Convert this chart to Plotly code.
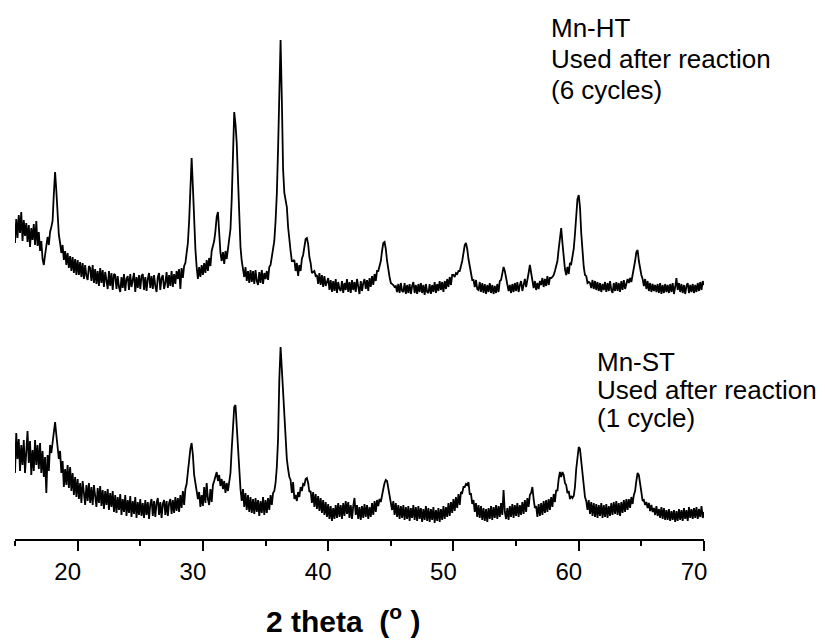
import plotly.graph_objects as go

# 2-theta scan grid (degrees), step 0.1 from 15 to 70
two_theta = [round(15 + 0.1 * i, 1) for i in range(551)]

# Mn-HT, used after reaction (6 cycles) - intensity (a.u., offset trace), one row per degree
mn_ht_intensity = [
    296, 320, 301, 324, 306, 327, 298, 319, 303, 316,   # 15
    297, 314, 292, 311, 299, 315, 294, 318, 293, 307,   # 16
    288, 298, 280, 274, 284, 296, 302, 294, 307, 312,   # 17
    318, 345, 367, 348, 322, 304, 296, 286, 294, 279,   # 18
    288, 274, 286, 271, 283, 268, 282, 266, 280, 264,   # 19
    279, 264, 277, 262, 276, 260, 274, 263, 259, 273,   # 20
    271, 258, 274, 256, 270, 255, 268, 253, 271, 256,   # 21
    269, 252, 267, 255, 250, 268, 253, 266, 249, 265,   # 22
    264, 250, 263, 252, 247, 262, 251, 265, 248, 260,   # 23
    263, 249, 265, 252, 261, 266, 247, 262, 251, 264,   # 24
    250, 263, 265, 249, 262, 248, 260, 266, 251, 263,   # 25
    250, 264, 253, 247, 262, 266, 249, 261, 264, 250,   # 26
    256, 267, 251, 264, 253, 268, 252, 265, 255, 268,   # 27
    260, 270, 250, 271, 261, 273, 276, 286, 296, 318,   # 28
    350, 381, 352, 318, 290, 272, 260, 272, 262, 274,   # 29
    264, 276, 266, 279, 268, 281, 273, 288, 292, 298,   # 30
    308, 322, 327, 305, 286, 278, 287, 275, 288, 280,   # 31
    290, 298, 310, 340, 385, 427, 415, 396, 360, 318,   # 32
    292, 278, 270, 262, 272, 258, 268, 256, 269, 257,   # 33
    268, 255, 269, 258, 254, 267, 256, 269, 255, 266,   # 34
    260, 268, 259, 272, 274, 282, 286, 298, 318, 345,   # 35
    390, 460, 499, 440, 370, 346, 340, 332, 312, 296,   # 36
    288, 278, 278, 279, 268, 276, 263, 274, 268, 280,   # 37
    284, 292, 300, 301, 295, 282, 276, 266, 267, 268,   # 38
    263, 264, 255, 266, 254, 264, 252, 263, 253, 257,   # 39
    261, 249, 259, 247, 258, 248, 260, 246, 257, 250,   # 40
    248, 258, 246, 256, 249, 260, 247, 257, 246, 259,   # 41
    249, 257, 247, 260, 250, 245, 258, 248, 256, 260,   # 42
    250, 259, 248, 261, 252, 263, 254, 265, 258, 268,   # 43
    268, 272, 278, 288, 296, 297, 290, 278, 268, 262,   # 44
    256, 255, 254, 252, 253, 247, 255, 246, 256, 248,   # 45
    247, 256, 245, 254, 246, 255, 245, 253, 257, 246,   # 46
    254, 245, 255, 247, 256, 246, 254, 244, 255, 247,   # 47
    246, 255, 245, 254, 247, 257, 246, 255, 248, 258,   # 48
    249, 257, 247, 258, 250, 260, 252, 262, 254, 264,   # 49
    264, 262, 266, 265, 268, 268, 272, 278, 286, 294,   # 50
    296, 290, 280, 272, 266, 259, 259, 252, 259, 250,   # 51
    249, 257, 247, 256, 246, 255, 245, 254, 247, 256,   # 52
    246, 254, 245, 253, 246, 255, 247, 258, 259, 265,   # 53
    272, 268, 260, 252, 248, 254, 246, 255, 247, 256,   # 54
    248, 257, 247, 254, 258, 248, 256, 260, 252, 262,   # 55
    266, 274, 266, 258, 251, 258, 249, 256, 250, 258,   # 56
    254, 261, 252, 260, 253, 263, 254, 261, 261, 262,   # 57
    264, 268, 272, 278, 290, 305, 311, 296, 278, 270,   # 58
    264, 272, 265, 276, 275, 282, 290, 305, 325, 340,   # 59
    344, 332, 306, 286, 272, 264, 263, 256, 257, 256,   # 60
    251, 259, 250, 258, 249, 257, 248, 256, 247, 255,   # 61
    249, 257, 247, 256, 248, 258, 249, 246, 256, 248,   # 62
    257, 248, 256, 247, 258, 249, 259, 250, 257, 260,   # 63
    256, 261, 257, 264, 268, 278, 287, 289, 278, 268,   # 64
    264, 260, 253, 260, 250, 258, 248, 256, 247, 255,   # 65
    248, 254, 247, 255, 246, 256, 245, 254, 246, 255,   # 66
    247, 254, 246, 255, 247, 256, 245, 252, 261, 249,   # 67
    256, 247, 255, 246, 254, 245, 253, 256, 246, 254,   # 68
    247, 255, 246, 254, 247, 256, 248, 257, 249, 258,   # 69
    254,                                                # 70
]

# Mn-ST, used after reaction (1 cycle) - intensity (a.u.), one row per degree
mn_st_intensity = [
    66, 106, 80, 100, 68, 94, 74, 99, 66, 92,     # 15
    108, 76, 98, 64, 89, 68, 99, 74, 94, 70,      # 16
    96, 66, 88, 62, 82, 46, 84, 68, 94, 86,       # 17
    98, 108, 117, 104, 90, 80, 88, 66, 78, 52,    # 18
    70, 54, 74, 51, 72, 48, 66, 44, 62, 42,       # 19
    60, 40, 56, 36, 58, 42, 34, 54, 38, 56,       # 20
    36, 52, 34, 54, 39, 32, 51, 36, 53, 33,       # 21
    49, 30, 48, 34, 50, 29, 46, 32, 48, 27,       # 22
    44, 26, 42, 29, 45, 24, 40, 27, 44, 23,       # 23
    39, 26, 43, 22, 38, 25, 42, 21, 37, 24,       # 24
    40, 23, 36, 21, 39, 24, 37, 20, 35, 40,       # 25
    23, 38, 22, 36, 41, 24, 37, 21, 35, 39,       # 26
    24, 38, 23, 36, 40, 25, 39, 26, 42, 28,       # 27
    41, 27, 44, 31, 48, 34, 50, 55, 67, 82,       # 28
    90, 96, 84, 64, 56, 44, 40, 47, 32, 44,       # 29
    33, 52, 36, 56, 40, 34, 50, 37, 54, 58,       # 30
    64, 67, 58, 64, 53, 60, 50, 58, 46, 56,       # 31
    48, 60, 66, 90, 118, 132, 134, 112, 89, 64,   # 32
    50, 38, 50, 32, 46, 29, 44, 27, 42, 26,       # 33
    40, 25, 41, 27, 39, 23, 38, 26, 42, 24,       # 34
    39, 26, 41, 29, 44, 34, 46, 48, 56, 72,       # 35
    100, 160, 192, 170, 146, 115, 92, 80, 70, 62, # 36
    59, 46, 57, 40, 44, 38, 47, 42, 52, 48,       # 37
    55, 54, 60, 61, 56, 47, 48, 36, 47, 32,       # 38
    45, 30, 43, 28, 41, 26, 39, 24, 37, 22,       # 39
    35, 20, 33, 18, 31, 20, 34, 21, 36, 22,       # 40
    34, 20, 36, 23, 38, 25, 37, 21, 34, 20,       # 41
    33, 41, 24, 34, 20, 32, 19, 33, 21, 35,       # 42
    22, 34, 20, 32, 22, 36, 24, 38, 27, 39,       # 43
    33, 40, 37, 45, 50, 56, 59, 58, 50, 42,       # 44
    38, 29, 38, 24, 36, 22, 34, 20, 33, 21,       # 45
    34, 19, 32, 20, 33, 18, 31, 21, 34, 19,       # 46
    32, 18, 33, 20, 31, 17, 30, 19, 33, 18,       # 47
    31, 17, 30, 19, 32, 16, 29, 18, 31, 17,       # 48
    30, 19, 33, 20, 32, 22, 36, 23, 37, 26,       # 49
    40, 28, 42, 31, 45, 34, 47, 46, 52, 52,       # 50
    55, 54, 57, 45, 45, 35, 39, 27, 36, 22,       # 51
    34, 21, 33, 19, 31, 18, 30, 17, 31, 20,       # 52
    33, 19, 32, 21, 34, 20, 33, 22, 36, 24,       # 53
    49, 27, 20, 31, 19, 33, 22, 35, 21, 34,       # 54
    23, 36, 22, 34, 24, 37, 25, 39, 27, 41,       # 55
    32, 44, 46, 52, 40, 31, 33, 22, 35, 23,       # 56
    36, 24, 38, 26, 39, 27, 40, 29, 42, 32,       # 57
    45, 37, 49, 48, 60, 67, 62, 67, 64, 56,       # 58
    54, 46, 48, 40, 43, 41, 43, 52, 70, 85,       # 59
    92, 90, 78, 66, 52, 42, 38, 29, 39, 25,       # 60
    37, 23, 36, 22, 35, 21, 34, 23, 36, 21,       # 61
    34, 22, 35, 21, 33, 23, 36, 24, 37, 25,       # 62
    38, 24, 36, 23, 37, 26, 39, 27, 40, 29,       # 63
    40, 31, 42, 35, 44, 48, 58, 66, 64, 52,       # 64
    47, 38, 39, 34, 37, 31, 36, 28, 34, 27,       # 65
    31, 24, 33, 23, 30, 21, 32, 20, 31, 19,       # 66
    29, 19, 30, 18, 28, 19, 29, 17, 28, 18,       # 67
    30, 19, 29, 18, 31, 20, 29, 18, 32, 21,       # 68
    30, 20, 31, 21, 32, 20, 30, 22, 33, 21,       # 69
    27,                                           # 70
]

x_ticks = [20, 30, 40, 50, 60, 70]
x_minor_ticks = [15, 25, 35, 45, 55, 65]
x_title = "2 theta  (<sup>o</sup> )"
label_ht = ["Mn-HT", "Used after reaction", "(6 cycles)"]
label_st = ["Mn-ST", "Used after reaction", "(1 cycle)"]

W, H = 825, 642
ML, MR, MT, MB = 15, 121, 0, 103
PW = W - ML - MR
PH = H - MT - MB


def px_to_paper(px, py):
    return (px - ML) / PW, (MT + PH - py) / PH


FONT = "Liberation Sans, Arial, sans-serif"

fig = go.Figure()
for ys in (mn_ht_intensity, mn_st_intensity):
    fig.add_trace(go.Scatter(x=two_theta, y=ys, mode="lines",
                             line=dict(color="black", width=1.8),
                             showlegend=False, hoverinfo="skip"))

annotations = []
for i, t in enumerate(label_ht):
    xp, yp = px_to_paper(549, 28 + i * 31)
    annotations.append(dict(x=xp, y=yp, xref="paper", yref="paper", text=t,
                            xanchor="left", yanchor="middle", showarrow=False,
                            font=dict(family=FONT, size=26, color="black")))
for i, t in enumerate(label_st):
    xp, yp = px_to_paper(595, 362 + i * 28)
    annotations.append(dict(x=xp, y=yp, xref="paper", yref="paper", text=t,
                            xanchor="left", yanchor="middle", showarrow=False,
                            font=dict(family=FONT, size=26, color="black")))
xp, yp = px_to_paper(343, 619)
annotations.append(dict(x=xp, y=yp, xref="paper", yref="paper", text="<b>" + x_title + "</b>",
                        xanchor="center", yanchor="middle", showarrow=False,
                        font=dict(family=FONT, size=30, color="black")))

fig.update_layout(
    width=W, height=H,
    margin=dict(l=ML, r=MR, t=MT, b=MB, autoexpand=False),
    paper_bgcolor="white", plot_bgcolor="white",
    annotations=annotations,
    xaxis=dict(range=[15, 70], tickvals=x_ticks, ticktext=[str(v) for v in x_ticks],
               showline=True, linecolor="black", linewidth=2,
               ticks="outside", ticklen=10, tickwidth=2, tickcolor="black",
               ticklabelshift=-10,
               minor=dict(tickvals=x_minor_ticks, ticks="outside", ticklen=5,
                          tickwidth=2, tickcolor="black"),
               showgrid=False, zeroline=False,
               tickfont=dict(family=FONT, size=24, color="black")),
    yaxis=dict(range=[0, PH], visible=False, showgrid=False, zeroline=False),
)

# remove the browser's default 8px page margin so the figure fills the window exactly
fig.write_html("out.html",
               config={"displayModeBar": False},
               post_script="document.body.style.margin='0';document.body.style.overflow='hidden';")
